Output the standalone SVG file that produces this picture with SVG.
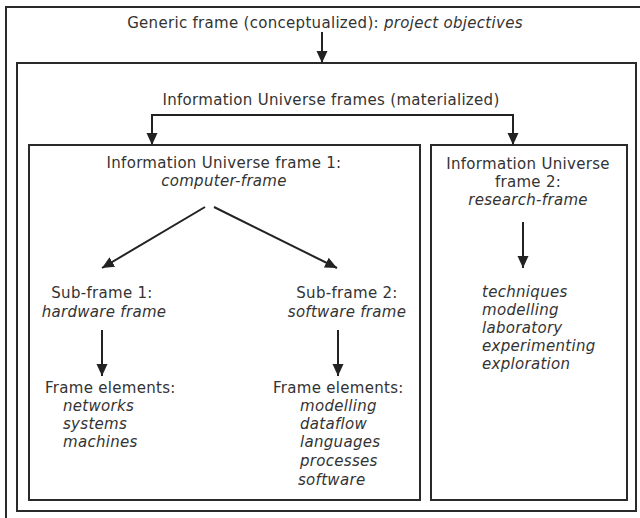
<svg xmlns="http://www.w3.org/2000/svg" width="640" height="518" viewBox="0 0 640 518">
<defs>
<marker id="ah" markerUnits="userSpaceOnUse" markerWidth="12" markerHeight="12" viewBox="0 0 12 12" refX="12" refY="6" orient="auto">
<path d="M0,0.5 L12,6 L0,11.5 Z" fill="#222"/>
</marker>
<style>
.box{fill:none;stroke:#2a2a2a;stroke-width:2}
.c{fill:none;stroke:#222;stroke-width:2;marker-end:url(#ah)}
text{font-family:"DejaVu Sans",Verdana,sans-serif;font-size:15px;letter-spacing:0.3px;fill:#333}
.i{font-style:italic}
.m{text-anchor:middle}
</style>
</defs>
<rect width="640" height="518" fill="#fff"/>
<g id="generic">
<rect class="box" x="6" y="7" width="640" height="520"/>
<text x="325" y="28" class="m">Generic frame (conceptualized): <tspan class="i">project objectives</tspan></text>
</g>
<g id="materialized">
<rect class="box" x="17" y="63" width="619" height="448"/>
<text x="331" y="105" class="m">Information Universe frames (materialized)</text>
</g>
<g id="frame1">
<rect class="box" x="29" y="145" width="391" height="355"/>
<text x="224" y="168" class="m">Information Universe frame 1:</text>
<text x="224" y="186" class="m i">computer-frame</text>
</g>
<g id="frame2">
<rect class="box" x="431" y="145" width="196" height="355"/>
<text x="528" y="169" class="m">Information Universe</text>
<text x="528" y="187" class="m">frame 2:</text>
<text x="528" y="205" class="m i">research-frame</text>
<text x="482" y="297" class="i">techniques</text>
<text x="482" y="315" class="i">modelling</text>
<text x="482" y="333" class="i">laboratory</text>
<text x="482" y="351" class="i">experimenting</text>
<text x="482" y="369" class="i">exploration</text>
</g>
<g id="sub1">
<text x="102" y="298" class="m">Sub-frame 1:</text>
<text x="104" y="317" class="m i">hardware frame</text>
</g>
<g id="elements1">
<text x="45" y="393">Frame elements:</text>
<text x="63" y="411" class="i">networks</text>
<text x="63" y="429" class="i">systems</text>
<text x="63" y="447" class="i">machines</text>
</g>
<g id="sub2">
<text x="347" y="298" class="m">Sub-frame 2:</text>
<text x="347" y="317" class="m i">software frame</text>
</g>
<g id="elements2">
<text x="273" y="393">Frame elements:</text>
<text x="300" y="411" class="i">modelling</text>
<text x="300" y="429" class="i">dataflow</text>
<text x="300" y="447" class="i">languages</text>
<text x="300" y="466" class="i">processes</text>
<text x="298" y="485" class="i">software</text>
</g>
<g id="connectors">
<path class="c" d="M322,32 V63"/>
<path class="c" d="M330,115 H152 V145"/>
<path class="c" d="M330,115 H513 V145"/>
<path class="c" d="M205,207 L102,268"/>
<path class="c" d="M214,207 L337,268"/>
<path class="c" d="M102,330 V376"/>
<path class="c" d="M338,330 V376"/>
<path class="c" d="M523,222 V268"/>
</g>
</svg>
